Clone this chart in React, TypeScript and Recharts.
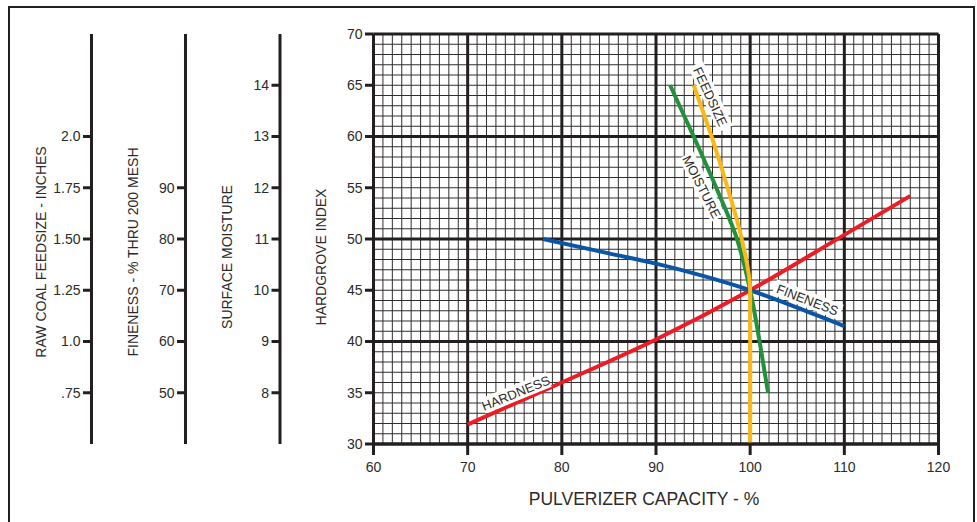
import { CartesianGrid, Line, LineChart, ReferenceDot, XAxis, YAxis } from "recharts";

// tick labels
const capacityTicks = [60, 70, 80, 90, 100, 110, 120];
const hgiTicks = [30, 35, 40, 45, 50, 55, 60, 65, 70];
const moistureTicks = [8, 9, 10, 11, 12, 13, 14];
const finenessTicks = [50, 60, 70, 80, 90];
const feedsizeTicks = [0.75, 1.0, 1.25, 1.5, 1.75, 2.0];
const feedsizeTickLabels = [".75", "1.0", "1.25", "1.50", "1.75", "2.0"];

// curves: cap = pulverizer capacity %, hgi = hardgrove index
const hardness = [
  { cap: 70, hgi: 31.9 },
  { cap: 80, hgi: 36.0 },
  { cap: 90, hgi: 40.2 },
  { cap: 100, hgi: 45 },
  { cap: 110, hgi: 50.4 },
  { cap: 117, hgi: 54.2 },
];
const fineness = [
  { cap: 78, hgi: 50 },
  { cap: 85, hgi: 48.6 },
  { cap: 90, hgi: 47.6 },
  { cap: 95, hgi: 46.4 },
  { cap: 100, hgi: 45 },
  { cap: 105, hgi: 43.3 },
  { cap: 110, hgi: 41.5 },
];
const moisture = [
  { cap: 91.5, hgi: 65 },
  { cap: 94.0, hgi: 60 },
  { cap: 96.4, hgi: 55 },
  { cap: 98.6, hgi: 50 },
  { cap: 100, hgi: 45 },
  { cap: 101, hgi: 40 },
  { cap: 101.9, hgi: 35 },
];
const feedsize = [
  { cap: 94.0, hgi: 65 },
  { cap: 95.9, hgi: 60 },
  { cap: 97.6, hgi: 55 },
  { cap: 99.1, hgi: 50 },
  { cap: 100, hgi: 45 },
  { cap: 100, hgi: 30 },
];

const curveTags = [
  { text: "FEEDSIZE", cap: 95.8, hgi: 63.9, angle: 65 },
  { text: "MOISTURE", cap: 94.9, hgi: 55.1, angle: 63 },
  { text: "FINENESS", cap: 106.1, hgi: 44.1, angle: 21 },
  { text: "HARDNESS", cap: 75.1, hgi: 35.0, angle: -22 },
];

const minorCap = Array.from({ length: 61 }, (_, i) => 60 + i);
const minorHgi = Array.from({ length: 41 }, (_, i) => 30 + i);
const majorCap = [60, 70, 80, 90, 100, 110, 120];
const majorHgi = [30, 40, 50, 60, 70];

const INK = "#231f20";
const TEXT = "#2b2b2b";
const FONT = "'Liberation Sans', Arial, sans-serif";

const RED = "#ed1c24";
const BLUE = "#0a56a6";
const GREEN = "#23903b";
const YELLOW = "#fbb917";

const AxisTitle = ({ viewBox, title, shift }: any) => {
  const cx = viewBox.x + 41 + 5;
  const cy = viewBox.y + viewBox.height / 2 + shift;
  return (
    <text
      x={cx}
      y={cy}
      transform={`rotate(-90, ${cx}, ${cy})`}
      textAnchor="middle"
      fontSize={14}
      fontFamily={FONT}
      fill={TEXT}
    >
      {title}
    </text>
  );
};

const XTitle = ({ viewBox }: any) => (
  <text
    x={viewBox.x + viewBox.width / 2 - 12}
    y={viewBox.y + 61}
    textAnchor="middle"
    fontSize={17.5}
    fontFamily={FONT}
    fill={TEXT}
  >
    PULVERIZER CAPACITY - %
  </text>
);

const CurveTag = ({ cx, cy, text, angle }: any) => {
  const w = text.length * 8.4 + 4;
  return (
    <g transform={`translate(${cx},${cy}) rotate(${angle})`}>
      <rect x={-w / 2} y={-8} width={w} height={16} fill="#fff" />
      <text x={0} y={5} textAnchor="middle" fontSize={13} fontFamily={FONT} fill={TEXT}>
        {text}
      </text>
    </g>
  );
};

const axisLine = { stroke: INK, strokeWidth: 3 };
const tickStyle = { fill: TEXT, fontSize: 14, fontFamily: FONT };

export default function App() {
  return (
    <div style={{ position: "absolute", left: 0, top: 0, width: 977, height: 522, overflow: "hidden", background: "#fff" }}>
      <div
        style={{
          position: "absolute",
          left: 8,
          top: 6,
          width: 967,
          height: 600,
          boxSizing: "border-box",
          border: `2px solid ${INK}`,
        }}
      />
      <div style={{ position: "absolute", left: 0, top: 0 }}>
        <LineChart width={977} height={522} margin={{ top: 34, right: 38.5, bottom: 48, left: 0 }}>
          <CartesianGrid
            horizontalValues={minorHgi}
            verticalValues={minorCap}
            stroke="#2e2e2e"
            strokeWidth={1}
            fill="none"
          />
          <CartesianGrid
            horizontalValues={majorHgi}
            verticalValues={majorCap}
            stroke={INK}
            strokeWidth={3}
            fill="none"
          />

          <XAxis
            dataKey="cap"
            type="number"
            domain={[60, 120]}
            allowDataOverflow
            ticks={capacityTicks}
            interval={0}
            axisLine={axisLine}
            tickLine={axisLine}
            tickSize={11}
            tickMargin={7}
            tick={tickStyle}
            height={30}
            label={<XTitle />}
          />

          <YAxis
            type="number"
            domain={[30, 70]}
            allowDataOverflow
            ticks={hgiTicks}
            interval={0}
            width={93.5}
            axisLine={axisLine}
            tickLine={axisLine}
            tickSize={8.5}
            tickMargin={2.5}
            tick={tickStyle}
            label={<AxisTitle title="HARDGROVE INDEX" shift={18} />}
          />
          <YAxis
            yAxisId="y1moist"
            type="number"
            domain={[7, 15]}
            allowDataOverflow
            ticks={moistureTicks}
            interval={0}
            width={94.5}
            axisLine={axisLine}
            tickLine={axisLine}
            tickSize={8.5}
            tickMargin={2.5}
            tick={tickStyle}
            label={<AxisTitle title="SURFACE MOISTURE" shift={18} />}
          />
          <YAxis
            yAxisId="y2fine"
            type="number"
            domain={[40, 120]}
            allowDataOverflow
            ticks={finenessTicks}
            interval={0}
            width={94}
            axisLine={axisLine}
            tickLine={axisLine}
            tickSize={8.5}
            tickMargin={2.5}
            tick={tickStyle}
            label={<AxisTitle title="FINENESS - % THRU 200 MESH" shift={13} />}
          />
          <YAxis
            yAxisId="y3feed"
            type="number"
            domain={[0.5, 2.5]}
            allowDataOverflow
            ticks={feedsizeTicks}
            interval={0}
            width={91.5}
            axisLine={axisLine}
            tickLine={axisLine}
            tickSize={8.5}
            tickMargin={2.5}
            tick={tickStyle}
            tickFormatter={(v: number) => feedsizeTickLabels[feedsizeTicks.indexOf(v)] ?? String(v)}
            label={<AxisTitle title="RAW COAL FEEDSIZE - INCHES" shift={13} />}
          />

          {curveTags.map((t) => (
            <ReferenceDot
              key={t.text}
              x={t.cap}
              y={t.hgi}
              r={0}
              shape={(p: any) => <CurveTag cx={p.cx} cy={p.cy} text={t.text} angle={t.angle} />}
            />
          ))}

          <Line data={hardness} dataKey="hgi" type="monotoneX" stroke={RED} strokeWidth={4} dot={false} activeDot={false} isAnimationActive={false} />
          <Line data={fineness} dataKey="hgi" type="monotoneX" stroke={BLUE} strokeWidth={4} dot={false} activeDot={false} isAnimationActive={false} />
          <Line data={moisture} dataKey="hgi" type="monotoneY" stroke={GREEN} strokeWidth={4} dot={false} activeDot={false} isAnimationActive={false} />
          <Line data={feedsize} dataKey="hgi" type="monotoneY" stroke={YELLOW} strokeWidth={4} dot={false} activeDot={false} isAnimationActive={false} />
        </LineChart>
      </div>
    </div>
  );
}
